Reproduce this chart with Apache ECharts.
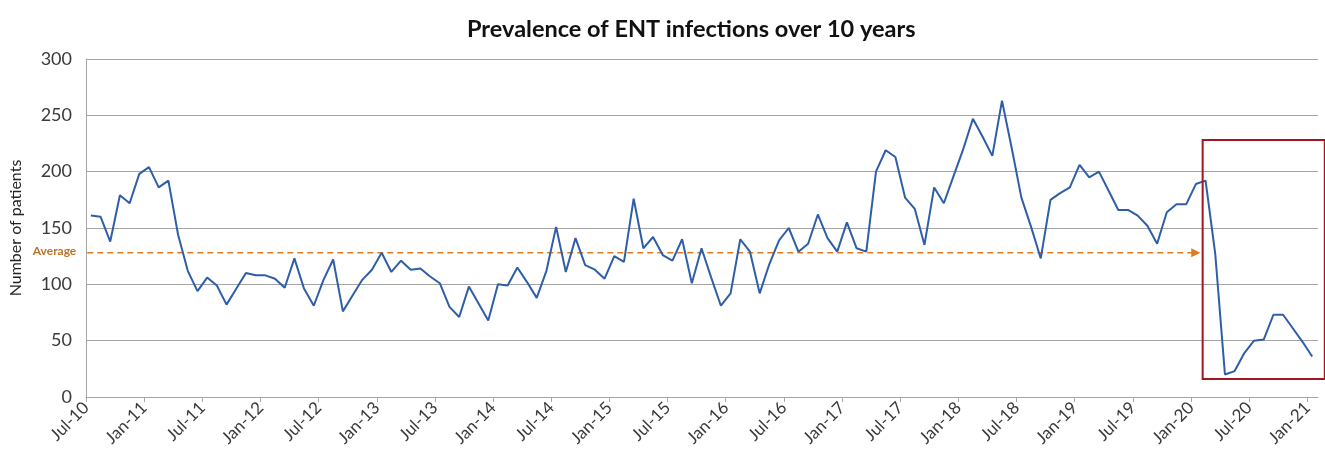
<!DOCTYPE html>
<html>
<head>
<meta charset="utf-8">
<title>Prevalence of ENT infections over 10 years</title>
<script src="https://cdn.jsdelivr.net/npm/echarts@6/dist/echarts.min.js"></script>
<style>
  html, body { margin: 0; padding: 0; background: #ffffff; }
  #chart { width: 1325px; height: 467px; }
</style>
</head>
<body>
<div id="chart"></div>
<script>
// Half-yearly tick labels, one every 6 months starting Jul-10
const tickLabels = [
  'Jul-10', 'Jan-11', 'Jul-11', 'Jan-12', 'Jul-12', 'Jan-13', 'Jul-13', 'Jan-14',
  'Jul-14', 'Jan-15', 'Jul-15', 'Jan-16', 'Jul-16', 'Jan-17', 'Jul-17', 'Jan-18',
  'Jul-18', 'Jan-19', 'Jul-19', 'Jan-20', 'Jul-20', 'Jan-21'
];

// Monthly patient counts, Jul-10 .. Jan-21
const patients = [
  161, 160, 138, 179, 172, 198, 204, 186, 192, 144, 112, 94,
  106, 99, 82, 96, 110, 108, 108, 105, 97, 123, 96, 81,
  104, 122, 76, 90, 104, 113, 128, 111, 121, 113, 114, 107,
  101, 80, 71, 98, 83, 68, 100, 99, 115, 102, 88, 112,
  151, 111, 141, 117, 113, 105, 125, 120, 176, 132, 142, 126,
  121, 140, 101, 132, 106, 81, 92, 140, 129, 92, 118, 139,
  150, 129, 136, 162, 141, 129, 155, 132, 129, 200, 219, 213,
  177, 167, 135, 186, 172, 196, 220, 247, 231, 214, 263, 221,
  177, 151, 123, 175, 181, 186, 206, 195, 200, 183, 166, 166,
  161, 152, 136, 164, 171, 171, 189, 192, 127, 20, 23, 39,
  50, 51, 73, 73, 61, 49, 36
];

// Long-run average and the span (in months after Jul-10) of its guide arrow
const averageValue = 128;
const averageFrom = -0.9;
const averageTo = 114.8;

// Highlighted pandemic period (months after Jul-10, patient range)
const highlightMonths = [115.2, 127.8];
const highlightRange = [16, 228];

const MONTHS_PER_TICK = 6;
const FONT = 'Lato, "Open Sans", "Liberation Sans", sans-serif';

// each monthly value sits mid-month
const linePoints = patients.map((v, i) => [i + 0.5, v]);
const tickValues = tickLabels.map((_, j) => j * MONTHS_PER_TICK);

const chart = echarts.init(document.getElementById('chart'), null, { renderer: 'canvas' });

chart.setOption({
  backgroundColor: '#ffffff',
  animation: false,
  title: {
    text: 'Prevalence of ENT infections over 10 years',
    left: 462,
    top: 12,
    textStyle: { fontFamily: FONT, fontSize: 23.5, fontWeight: 'bold', color: '#111111' }
  },
  grid: { left: 86, right: 7, top: 59, bottom: 70, containLabel: false },
  xAxis: {
    type: 'value',
    min: 0,
    max: 127.1,
    splitLine: { show: false },
    axisLine: { show: true, lineStyle: { color: '#a6a6a6', width: 1 } },
    axisTick: {
      show: true,
      customValues: tickValues,
      length: 5,
      lineStyle: { color: '#a6a6a6' }
    },
    axisLabel: {
      customValues: tickValues,
      rotate: 45,
      margin: 8,
      fontFamily: FONT,
      fontSize: 17,
      color: '#3a3a3a',
      formatter: (v) => tickLabels[Math.round(v / MONTHS_PER_TICK)] || ''
    }
  },
  yAxis: {
    type: 'value',
    min: 0,
    max: 300,
    interval: 50,
    name: 'Number of patients',
    nameLocation: 'middle',
    nameGap: 62,
    nameTextStyle: { fontFamily: FONT, fontSize: 16, color: '#222222' },
    axisLine: { show: true, lineStyle: { color: '#a6a6a6', width: 1 } },
    axisTick: { show: false },
    splitLine: { show: true, lineStyle: { color: '#a6a6a6', width: 1 } },
    axisLabel: { fontFamily: FONT, fontSize: 18, color: '#3a3a3a', margin: 14 }
  },
  series: [
    {
      name: 'Patients',
      type: 'line',
      data: linePoints,
      showSymbol: false,
      symbol: 'none',
      lineStyle: { color: '#2f5ea8', width: 2 },
      z: 3
    },
    {
      name: 'Average',
      type: 'line',
      clip: false,
      showSymbol: true,
      data: [
        {
          value: [averageFrom, averageValue],
          symbol: 'circle',
          symbolSize: 0.01,
          label: {
            show: true,
            position: 'left',
            distance: 1,
            offset: [0, -2],
            formatter: 'Average',
            fontFamily: FONT,
            fontSize: 12,
            fontWeight: 'bold',
            color: '#c0712a'
          }
        },
        {
          value: [averageTo, averageValue],
          symbol: 'triangle',
          symbolRotate: -90,
          symbolSize: [9, 9],
          symbolOffset: [-3, 0]
        }
      ],
      itemStyle: { color: '#e07b24' },
      lineStyle: { color: '#e07b24', width: 1.5, type: [6, 4] },
      z: 2
    }
  ]
});

// Frame around the highlighted period, placed through the grid's own scales
const corner1 = chart.convertToPixel({ gridIndex: 0 }, [highlightMonths[0], highlightRange[1]]);
const corner2 = chart.convertToPixel({ gridIndex: 0 }, [highlightMonths[1], highlightRange[0]]);
chart.setOption({
  graphic: [{
    type: 'rect',
    z: 10,
    shape: {
      x: Math.min(corner1[0], corner2[0]),
      y: Math.min(corner1[1], corner2[1]),
      width: Math.abs(corner2[0] - corner1[0]),
      height: Math.abs(corner2[1] - corner1[1])
    },
    style: { fill: 'none', stroke: '#a3161f', lineWidth: 2 }
  }]
});
</script>
</body>
</html>
